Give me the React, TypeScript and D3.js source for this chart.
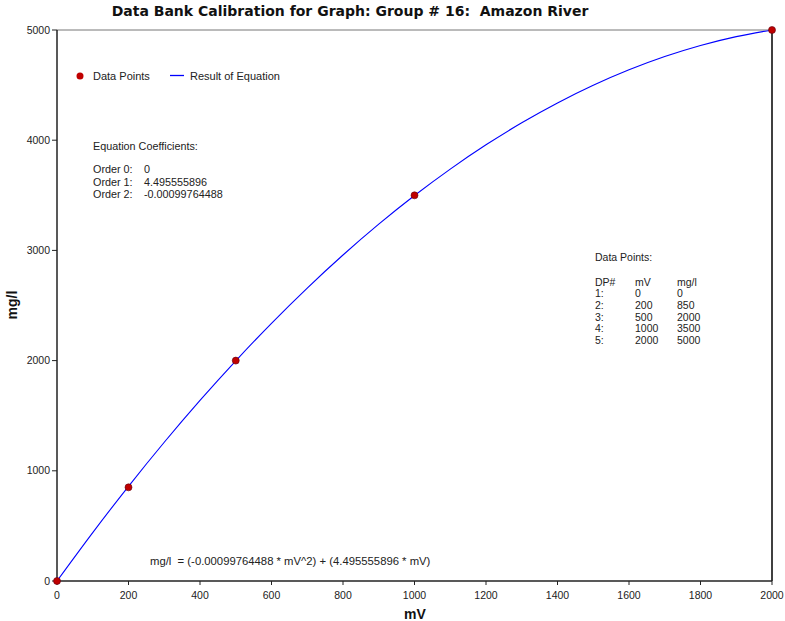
import React from 'react';
import * as d3 from 'd3';

const pointsMv = [0, 200, 500, 1000, 2000];
const pointsMgl = [0, 850, 2000, 3500, 5000];

// values of the fitted curve
const curveMv = [0, 100, 200, 300, 400, 500, 600, 700, 800, 900, 1000, 1100, 1200, 1300, 1400, 1500, 1600, 1700, 1800, 1900, 2000];
const curveMgl = [0, 439.6, 859.2, 1258.9, 1638.6, 1998.4, 2338.2, 2658.1, 2958.0, 3237.9, 3497.9, 3737.9, 3958.1, 4158.2, 4338.4, 4498.6, 4638.9, 4759.2, 4859.6, 4940.1, 5000.5];

const xTicks = [0, 200, 400, 600, 800, 1000, 1200, 1400, 1600, 1800, 2000];
const yTicks = [0, 1000, 2000, 3000, 4000, 5000];

const coefLines = ['Order 0:', 'Order 1:', 'Order 2:'];
const coefValues = ['0', '4.495555896', '-0.00099764488'];

const W = 785;
const H = 621;
const margin = { top: 30, right: 13, bottom: 40, left: 57 };
const FONT = '"Liberation Sans", Arial, sans-serif';

const App: React.FC = () => {
  const x = d3.scaleLinear().domain([0, 2000]).range([margin.left, W - margin.right]);
  const y = d3.scaleLinear().domain([0, 5000]).range([H - margin.bottom, margin.top]);

  const line = d3
    .line<number>()
    .x((_, i) => x(curveMv[i]))
    .y(d => y(d))
    .curve(d3.curveCatmullRom);

  const x0 = x(0);
  const x1 = x(2000);
  const y0 = y(0);
  const y1 = y(5000);

  return (
    <svg
      width={W}
      height={H}
      style={{ position: 'absolute', left: 0, top: 0, background: '#fff' }}
      fontFamily={FONT}
    >
      <rect x={0} y={0} width={W} height={H} fill="#fff" />
      <text
        x={350}
        y={16}
        textAnchor="middle"
        fontFamily='"DejaVu Sans", Verdana, sans-serif'
        fontWeight="bold"
        fontSize={14}
        fill="#111"
        style={{ whiteSpace: 'pre' }}
      >
        {'Data Bank Calibration for Graph: Group # 16:  Amazon River'}
      </text>

      {/* frame */}
      <line x1={x0} x2={x1} y1={y1} y2={y1} stroke="#777" strokeWidth={1} />
      <line x1={x1} x2={x1} y1={y1} y2={y0} stroke="#000" strokeWidth={1.5} />
      <line x1={x0} x2={x0} y1={y1} y2={y0} stroke="#222" strokeWidth={1.5} />
      <line x1={x0} x2={x1} y1={y0} y2={y0} stroke="#222" strokeWidth={1.5} />

      {yTicks.map(t => (
        <g key={'y' + t}>
          <line x1={x0 - 5} x2={x0} y1={y(t)} y2={y(t)} stroke="#222" />
          <text x={x0 - 7} y={y(t)} dy="0.35em" textAnchor="end" fontSize={10.5} fill="#222">
            {t}
          </text>
        </g>
      ))}
      {xTicks.map(t => (
        <g key={'x' + t}>
          <line x1={x(t)} x2={x(t)} y1={y0} y2={y0 + 4} stroke="#222" />
          <text x={x(t)} y={y0 + 18} textAnchor="middle" fontSize={10.5} fill="#222">
            {t}
          </text>
        </g>
      ))}

      <text x={415} y={619} textAnchor="middle" fontWeight="bold" fontSize={14} fill="#111">
        mV
      </text>
      <text
        transform={`translate(17,${305}) rotate(-90)`}
        textAnchor="middle"
        fontWeight="bold"
        fontSize={14}
        fill="#111"
      >
        mg/l
      </text>

      <path d={line(curveMgl) ?? ''} fill="none" stroke="#0000ff" strokeWidth={1.1} />

      {pointsMv.map((mv, i) => (
        <circle key={mv} cx={x(mv)} cy={y(pointsMgl[i])} r={3.5} fill="#c00000" stroke="#600010" strokeWidth={0.6} />
      ))}

      {/* legend */}
      <circle cx={80} cy={76} r={3.5} fill="#c00000" />
      <text x={93} y={76} dy="0.35em" fontSize={11} fill="#222">
        Data Points
      </text>
      <line x1={170} x2={184} y1={75.5} y2={75.5} stroke="#0000ff" strokeWidth={1.3} />
      <text x={190} y={76} dy="0.35em" fontSize={11} fill="#222">
        Result of Equation
      </text>

      {/* coefficients */}
      <text x={93} y={146} dy="0.35em" fontSize={10.8} fill="#222">
        Equation Coefficients:
      </text>
      {coefLines.map((c, i) => (
        <g key={c}>
          <text x={93} y={169.5 + i * 12.3} dy="0.35em" fontSize={10.8} fill="#222">
            {c}
          </text>
          <text x={144} y={169.5 + i * 12.3} dy="0.35em" fontSize={10.8} fill="#222">
            {coefValues[i]}
          </text>
        </g>
      ))}

      {/* data points table */}
      <text x={595} y={257} dy="0.35em" fontSize={10.5} fill="#222">
        Data Points:
      </text>
      {['DP#', 'mV', 'mg/l'].map((h, j) => (
        <text key={h} x={[595, 635, 677][j]} y={282} dy="0.35em" fontSize={10.5} fill="#222">
          {h}
        </text>
      ))}
      {pointsMv.map((mv, i) => (
        <g key={'row' + i}>
          <text x={595} y={293.5 + i * 11.7} dy="0.35em" fontSize={10.5} fill="#222">
            {`${i + 1}:`}
          </text>
          <text x={635} y={293.5 + i * 11.7} dy="0.35em" fontSize={10.5} fill="#222">
            {mv}
          </text>
          <text x={677} y={293.5 + i * 11.7} dy="0.35em" fontSize={10.5} fill="#222">
            {pointsMgl[i]}
          </text>
        </g>
      ))}

      <text x={150} y={561} dy="0.35em" fontSize={11.3} fill="#222" style={{ whiteSpace: 'pre' }}>
        {'mg/l  = (-0.00099764488 * mV^2) + (4.495555896 * mV)'}
      </text>
    </svg>
  );
};

export default App;
